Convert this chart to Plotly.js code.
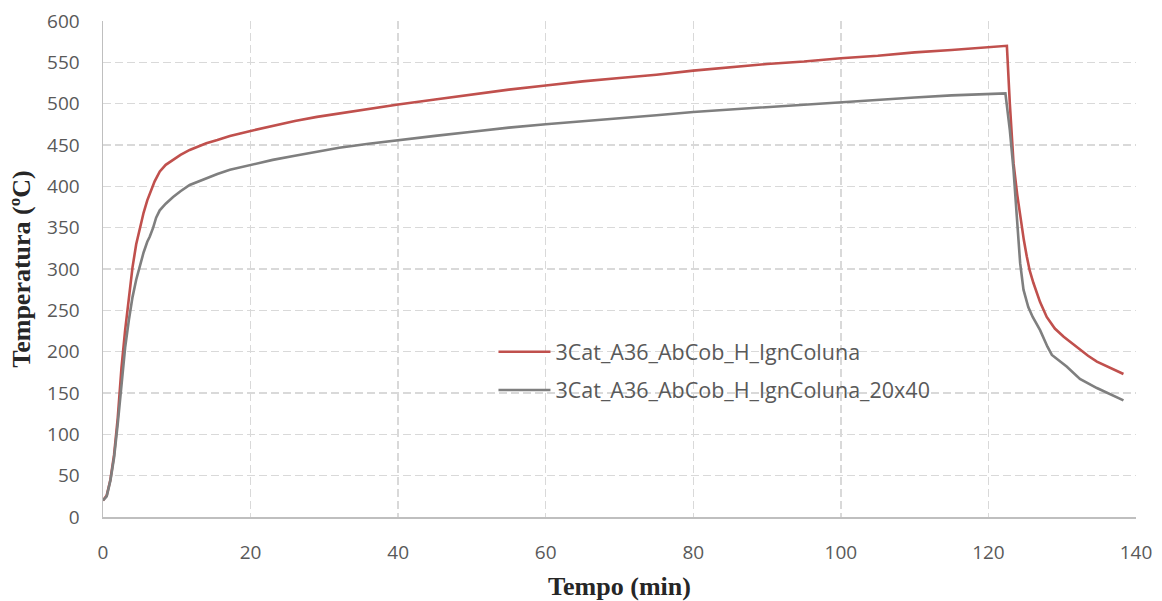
<!DOCTYPE html>
<html>
<head>
<meta charset="utf-8">
<script src="https://cdn.plot.ly/plotly-3.0.1.min.js"></script>
<style>
  html, body { margin: 0; padding: 0; background: #ffffff; }
  #chart { width: 1162px; height: 601px; }
</style>
</head>
<body>
<div id="chart"></div>
<script>
// ---- data ----
const seriesNames = ["3Cat_A36_AbCob_H_IgnColuna", "3Cat_A36_AbCob_H_IgnColuna_20x40"];

const timeRed = [0, 0.5, 1, 1.5, 2, 2.5, 3, 3.5, 4, 4.5, 5, 5.5, 6, 6.5, 7, 7.7, 8.5, 9.5, 10.5, 11.75, 13, 14, 15.5, 17.2, 20, 23, 26, 29, 32, 36, 40, 45, 50, 55, 60, 65, 70, 75, 80, 85, 90, 95, 100, 105, 110, 115, 120, 122.5, 122.9, 123.4, 123.9, 124.3, 124.8, 125.2, 125.6, 126.1, 126.5, 127, 127.9, 129, 130.2, 131.3, 132.4, 133.5, 134.7, 136.5, 138.3];
const tempRed = [20, 26, 45, 75, 120, 180, 226, 266, 302, 330, 351, 368, 383, 395, 406, 418, 426, 432, 438, 444, 448.5, 452, 456, 461, 467, 473, 479, 484, 488, 494, 499, 505, 511, 517, 522, 527, 531, 535, 540, 544, 548, 551, 555, 558, 562, 565, 568, 570, 500, 428, 390, 363, 335, 315, 298, 283, 272, 260, 242, 228, 218, 210, 202, 195, 188, 180, 173];

const timeGray = [0, 0.5, 1, 1.5, 2, 2.5, 3, 3.5, 4, 4.5, 5, 5.5, 6, 6.33, 6.8, 7.2, 7.69, 8.5, 9.5, 10.5, 11.75, 13, 14, 15.5, 17.2, 20, 23, 26, 29, 32, 36, 40, 45, 50, 55, 60, 65, 70, 75, 80, 85, 90, 95, 100, 105, 110, 115, 120, 122.3, 122.9, 123.4, 123.85, 124.3, 124.75, 125.4, 126, 127, 128, 128.6, 130.6, 132.4, 134.7, 136.5, 138.3];
const tempGray = [20, 25, 44, 72, 113, 162, 205, 238, 266, 287, 305, 320, 333, 339, 350, 362, 371, 379, 387, 394, 401.6, 406, 410, 415, 420, 426, 432, 437, 442, 446.7, 451.5, 456, 461, 466, 471, 475, 478.5, 482, 486, 490, 493, 496, 499, 502, 505, 507.5, 510, 512, 512.5, 468, 420, 363, 307, 275, 254, 242, 226, 206, 196, 182, 167, 156, 148, 141];

const xTicks = [0, 20, 40, 60, 80, 100, 120, 140];
const yTicks = [0, 50, 100, 150, 200, 250, 300, 350, 400, 450, 500, 550, 600];

const xTitle = "Tempo (min)";
const yTitle = "Temperatura (ºC)";

// ---- chart ----
const tickFont = { family: "Open Sans, sans-serif", size: 19, color: "#595959" };
const titleFont = { family: "Liberation Serif, Times New Roman, serif", size: 26, color: "#262626", weight: "bold" };

const traces = [
  { x: timeRed, y: tempRed, name: seriesNames[0], type: "scatter", mode: "lines",
    line: { color: "#C0504D", width: 2.6, shape: "linear" }, legend: "legend" },
  { x: timeGray, y: tempGray, name: seriesNames[1], type: "scatter", mode: "lines",
    line: { color: "#7F7F7F", width: 2.6, shape: "linear" }, legend: "legend2" }
];

const legendCommon = {
  xref: "paper", yref: "paper", xanchor: "left", yanchor: "middle",
  bgcolor: "rgba(0,0,0,0)", borderwidth: 0,
  font: { family: "Open Sans, sans-serif", size: 21.5, color: "#595959" },
  itemwidth: 52
};

const layout = {
  width: 1162, height: 601,
  paper_bgcolor: "#ffffff", plot_bgcolor: "#ffffff",
  margin: { l: 103, r: 26, t: 21, b: 84 },
  showlegend: true,
  legend: Object.assign({}, legendCommon, { x: 0.378, y: 0.333 }),
  legend2: Object.assign({}, legendCommon, { x: 0.378, y: 0.256 }),
  xaxis: {
    range: [0, 140], tickvals: xTicks, ticktext: xTicks.map(String),
    showgrid: true, gridcolor: "#D9D9D9", gridwidth: 1.5, griddash: "8px,4px",
    showline: true, linecolor: "#BFBFBF", linewidth: 1.5,
    zeroline: false, ticks: "", tickfont: tickFont, ticklabelstandoff: 18,
    title: { text: xTitle, font: titleFont, standoff: 13 },
    automargin: false, fixedrange: true
  },
  yaxis: {
    range: [0, 600], tickvals: yTicks, ticktext: yTicks.map(String),
    showgrid: true, gridcolor: "#D9D9D9", gridwidth: 1.5, griddash: "8px,4px",
    showline: true, linecolor: "#BFBFBF", linewidth: 1.5,
    zeroline: false, ticks: "", tickfont: tickFont, ticklabelstandoff: 18,
    title: { text: yTitle, font: titleFont, standoff: 9 },
    automargin: false, fixedrange: true
  }
};

Plotly.newPlot("chart", traces, layout, { displayModeBar: false, staticPlot: true });
</script>
</body>
</html>
